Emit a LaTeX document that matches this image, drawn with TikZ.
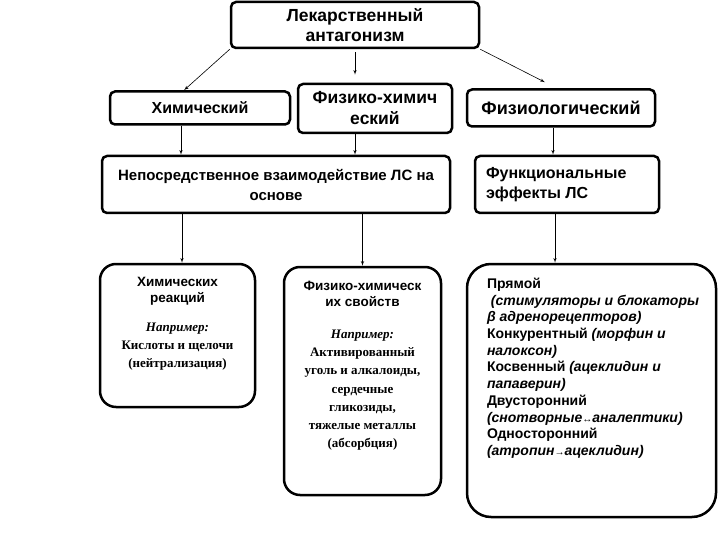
\documentclass[tikz,border=0pt]{standalone}
\usepackage{fontspec}
\setmainfont{Liberation Serif}
\setsansfont{Liberation Sans}
\usetikzlibrary{arrows}

\tikzstyle{block} = [rectangle, draw, line width=2.5pt, rounded corners=5pt,
    inner sep=0pt, align=center, font=\sffamily\bfseries\fontsize{15}{20}\selectfont]
\tikzstyle{card} = [rectangle, draw, line width=2.5pt, rounded corners=16pt,
    inner sep=0pt, font=\fontsize{13}{18.3}\selectfont]
\tikzstyle{line} = [draw, -latex', line width=0.6pt]

\newcommand{\cardtext}[3]{\parbox[c][#2][t]{#1}{#3}}
\newcommand{\cardhead}{\sffamily\bfseries\fontsize{13.5}{16.5}\selectfont}
\newcommand{\note}[1]{{\fontsize{14}{16.7}\selectfont\itshape #1}}
\newcommand{\tinyarrow}[1]{{\fontsize{10}{10}\selectfont\upshape #1}}

\begin{document}
\begin{tikzpicture}[x=1pt, y=-1pt]
    \useasboundingbox (0,0) rectangle (720,540);
    % Place nodes
    \node [block, minimum width=248pt, minimum height=46pt, font=\sffamily\bfseries\fontsize{17.5}{20}\selectfont] (antag) at (355,25) {Лекарственный\\антагонизм};
    \node [block, minimum width=180pt, minimum height=33pt, font=\sffamily\bfseries\fontsize{16}{20}\selectfont] (chem) at (200,108) {Химический};
    \node [block, minimum width=154pt, minimum height=49pt, font=\sffamily\bfseries\fontsize{17.5}{21}\selectfont] (phch) at (375,108.5) {Физико-химич\\еский};
    \node [block, minimum width=188pt, minimum height=37pt, font=\sffamily\bfseries\fontsize{18}{20}\selectfont] (phys) at (561,108) {Физиологический};
    \node [block, minimum width=348pt, minimum height=57pt] (direct) at (276,184.5) {Непосредственное взаимодействие ЛС на\\основе};
    \node [block, minimum width=184pt, minimum height=57pt, align=left, font=\sffamily\bfseries\fontsize{16}{20}\selectfont] (func) at (567,184.5) {\parbox{162pt}{Функциональные\\эффекты ЛС}};

    \node [card] (react) at (177.5,335.5) {\cardtext{155pt}{143pt}{\centering\vspace{13pt}
        {\cardhead Химических\\реакций\par}\vspace{10pt}
        {\bfseries\itshape Например:\\}
        \bfseries Кислоты и щелочи\\(нейтрализация)}};
    \node [card] (prop) at (362.5,381) {\cardtext{157pt}{228pt}{\centering\vspace{14pt}
        {\cardhead Физико-химическ\\их свойств\par}\vspace{13pt}
        {\bfseries\itshape Например:\\}
        \bfseries Активированный\\уголь и алкалоиды,\\сердечные\\гликозиды,\\тяжелые металлы\\(абсорбция)}};
    \node [card, rounded corners=24pt] (types) at (591.5,390.5) {\cardtext{249pt}{253pt}{\raggedright\leftskip=20pt\vspace{14pt}
        \sffamily\bfseries\fontsize{14}{16.7}\selectfont
        Прямой\\
        \ \note{(стимуляторы и блокаторы}\\
        \note{β адренорецепторов)}\\
        Конкурентный \note{(морфин и}\\
        \note{налоксон)}\\
        Косвенный \note{(ацеклидин и}\\
        \note{папаверин)}\\
        Двусторонний\\
        \note{(снотворные\tinyarrow{↔}аналептики)}\\
        Односторонний\\
        \note{(атропин\tinyarrow{→}ацеклидин)}}};

    % Draw edges
    \path [line] (antag.south west) -- ([xshift=-16pt]chem.north);
    \path [line] ([yshift=-3pt]antag.south) -- ([yshift=8pt]antag.south |- phch.north);
    \path [line] (antag.south east) -- ([xshift=-16pt,yshift=6pt]phys.north);
    \path [line] ([xshift=-19pt]chem.south) -- ([xshift=-19pt]chem.south |- direct.north);
    \path [line] (phch.south -| antag.south) -- (direct.north -| antag.south);
    \path [line] ([xshift=-8pt]phys.south) -- ([xshift=-8pt]phys.south |- func.north);
    \path [line] ([xshift=4.5pt]react.north |- direct.south) -- ([xshift=4.5pt]react.north);
    \path [line] (prop.north |- direct.south) -- (prop.north);
    \path [line] ([xshift=-12pt]func.south) -- ([xshift=-12pt]func.south |- types.north);
\end{tikzpicture}
\end{document}
